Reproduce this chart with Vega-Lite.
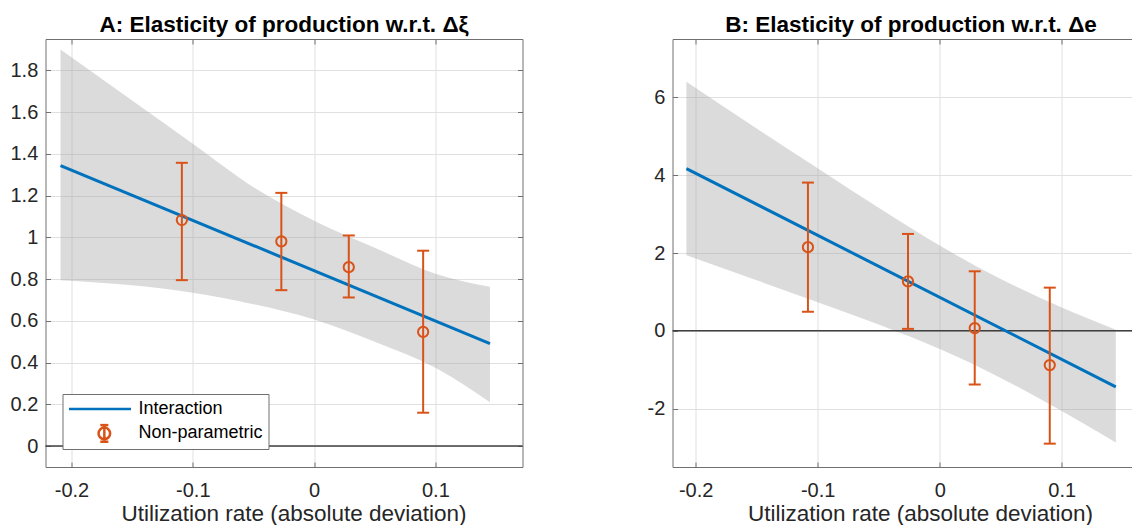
{
  "$schema": "https://vega.github.io/schema/vega-lite/v6.json",
  "padding": {"left": 9.5, "top": 14, "right": 0, "bottom": 0},
  "bounds": "flush",
  "spacing": 150,
  "config": {
    "view": {"stroke": null},
    "font": "Liberation Sans",
    "axis": {
      "labelFont": "Liberation Sans", "labelFontSize": 20, "labelColor": "#262626", "labelFlush": false,
      "titleFont": "Liberation Sans", "titleFontSize": 22.5, "titleFontWeight": "normal", "titleColor": "#262626",
      "gridColor": "#e0e0e0", "gridWidth": 1,
      "domainColor": "#707070", "domainWidth": 1,
      "tickColor": "#707070", "tickSize": -5, "tickWidth": 1
    },
    "title": {"font": "Liberation Sans", "fontSize": 22.5, "fontWeight": "bold", "color": "#000000", "offset": 2}
  },
  "datasets": {
    "bandA": [
      {"x": -0.209, "lo": 0.795, "hi": 1.9},
      {"x": -0.15, "lo": 0.77, "hi": 1.655},
      {"x": -0.1, "lo": 0.735, "hi": 1.448},
      {"x": -0.05, "lo": 0.68, "hi": 1.24},
      {"x": 0.0, "lo": 0.607, "hi": 1.08},
      {"x": 0.05, "lo": 0.5, "hi": 0.95},
      {"x": 0.1, "lo": 0.375, "hi": 0.826},
      {"x": 0.145, "lo": 0.21, "hi": 0.763}
    ],
    "lineA": [
      {"x": -0.209, "y": 1.344},
      {"x": 0.145, "y": 0.491}
    ],
    "ptsA": [
      {"x": -0.109, "y": 1.083, "lo": 0.795, "hi": 1.357},
      {"x": -0.027, "y": 0.981, "lo": 0.747, "hi": 1.213},
      {"x": 0.0286, "y": 0.857, "lo": 0.712, "hi": 1.009},
      {"x": 0.0899, "y": 0.547, "lo": 0.16, "hi": 0.936}
    ],
    "bandB": [
      {"x": -0.2076, "lo": 1.94, "hi": 6.4},
      {"x": -0.15, "lo": 1.3, "hi": 5.2},
      {"x": -0.1, "lo": 0.735, "hi": 4.175},
      {"x": -0.05, "lo": 0.16, "hi": 3.16},
      {"x": 0.0, "lo": -0.47, "hi": 2.19},
      {"x": 0.05, "lo": -1.21, "hi": 1.33},
      {"x": 0.1, "lo": -2.06, "hi": 0.6},
      {"x": 0.1443, "lo": -2.87, "hi": 0.03}
    ],
    "lineB": [
      {"x": -0.2076, "y": 4.17},
      {"x": 0.1443, "y": -1.44}
    ],
    "ptsB": [
      {"x": -0.108, "y": 2.15, "lo": 0.49, "hi": 3.81},
      {"x": -0.026, "y": 1.27, "lo": 0.05, "hi": 2.49},
      {"x": 0.0287, "y": 0.07, "lo": -1.38, "hi": 1.53},
      {"x": 0.0902, "y": -0.88, "lo": -2.9, "hi": 1.11}
    ],
    "legendRows": [
      {"series": "Interaction"},
      {"series": "Non-parametric"}
    ]
  },
  "hconcat": [
    {
      "width": 477,
      "height": 428,
      "title": {"text": "A: Elasticity of production w.r.t. Δξ"},
      "resolve": {"axis": {"x": "independent", "y": "independent"}},
      "layer": [
        {
          "data": {"name": "bandA"},
          "mark": {"type": "area", "fill": "#a6a6a6", "opacity": 0.4, "interpolate": "monotone"},
          "encoding": {
            "x": {"field": "x", "type": "quantitative",
              "scale": {"domain": [-0.2214, 0.1718], "nice": false, "zero": false},
              "axis": {"orient": "bottom", "values": [-0.2, -0.1, 0, 0.1], "format": "~g", "labelExpr": "replace(datum.label, '−', '-')", "grid": true, "title": "Utilization rate (absolute deviation)", "labelPadding": 18, "titlePadding": 2.5, "titleX": 248}},
            "y": {"field": "lo", "type": "quantitative",
              "scale": {"domain": [-0.1, 1.95], "nice": false, "zero": false},
              "axis": {"orient": "left", "values": [0, 0.2, 0.4, 0.6, 0.8, 1, 1.2, 1.4, 1.6, 1.8], "format": "~g", "grid": true, "title": null, "labelPadding": 12.7}},
            "y2": {"field": "hi"}
          }
        },
        {
          "data": {"values": [{}]},
          "mark": {"type": "rule", "color": "#404040", "strokeWidth": 1.5},
          "encoding": {"y": {"datum": 0, "type": "quantitative", "axis": null}}
        },
        {
          "data": {"name": "lineA"},
          "mark": {"type": "line", "color": "#0072BD", "strokeWidth": 3},
          "encoding": {
            "x": {"field": "x", "type": "quantitative",
              "axis": {"orient": "top", "values": [-0.2, -0.1, 0, 0.1], "labels": false, "grid": false, "title": null}},
            "y": {"field": "y", "type": "quantitative",
              "axis": {"orient": "right", "values": [0, 0.2, 0.4, 0.6, 0.8, 1, 1.2, 1.4, 1.6, 1.8], "labels": false, "grid": false, "title": null}}
          }
        },
        {
          "data": {"name": "ptsA"},
          "mark": {"type": "rule", "color": "#D95319", "strokeWidth": 2},
          "encoding": {
            "x": {"field": "x", "type": "quantitative", "axis": null},
            "y": {"field": "lo", "type": "quantitative", "axis": null},
            "y2": {"field": "hi"}
          }
        },
        {
          "data": {"name": "ptsA"},
          "mark": {"type": "tick", "orient": "horizontal", "color": "#D95319", "size": 12, "thickness": 2, "opacity": 1},
          "encoding": {
            "x": {"field": "x", "type": "quantitative", "axis": null},
            "y": {"field": "lo", "type": "quantitative", "axis": null}
          }
        },
        {
          "data": {"name": "ptsA"},
          "mark": {"type": "tick", "orient": "horizontal", "color": "#D95319", "size": 12, "thickness": 2, "opacity": 1},
          "encoding": {
            "x": {"field": "x", "type": "quantitative", "axis": null},
            "y": {"field": "hi", "type": "quantitative", "axis": null}
          }
        },
        {
          "data": {"name": "ptsA"},
          "mark": {"type": "point", "shape": "circle", "filled": false, "color": "#D95319", "strokeWidth": 2, "size": 105, "opacity": 1},
          "encoding": {
            "x": {"field": "x", "type": "quantitative", "axis": null},
            "y": {"field": "y", "type": "quantitative", "axis": null}
          }
        },
        {
          "data": {"name": "legendRows"},
          "mark": {"type": "point", "filled": false, "strokeWidth": 2.5, "size": 3844, "opacity": 1},
          "encoding": {
            "x": {"field": "px", "type": "quantitative", "axis": null},
            "y": {"field": "py", "type": "quantitative", "axis": null},
            "color": {"field": "series", "type": "nominal",
              "scale": {"domain": ["Interaction", "Non-parametric"], "range": ["#0072BD", "#D95319"]},
              "legend": {"title": null, "orient": "none", "legendX": 17, "legendY": 355, "fillColor": "#ffffff", "strokeColor": "#707070", "padding": 5, "symbolSize": 3844, "symbolStrokeWidth": 2.5, "labelFontSize": 18, "labelFont": "Liberation Sans", "labelColor": "#000000", "labelOffset": 6, "clipHeight": 20, "rowPadding": 4.4}},
            "shape": {"field": "series", "type": "nominal",
              "scale": {"domain": ["Interaction", "Non-parametric"], "range": ["M-1,0H1", "M0.14,-0.27V0.27M0.01,-0.27H0.27M0.01,0.27H0.27M0.327,0A0.187,0.187,0,1,1,-0.047,0A0.187,0.187,0,1,1,0.327,0"]},
              "legend": {"title": null, "orient": "none", "legendX": 17, "legendY": 355, "fillColor": "#ffffff", "strokeColor": "#707070", "padding": 5, "symbolSize": 3844, "symbolStrokeWidth": 2.5, "labelFontSize": 18, "labelFont": "Liberation Sans", "labelColor": "#000000", "labelOffset": 6, "clipHeight": 20, "rowPadding": 4.4}}
          }
        }
      ]
    },
    {
      "width": 460,
      "height": 428,
      "title": {"text": "B: Elasticity of production w.r.t. Δe", "dx": 8.5},
      "resolve": {"axis": {"x": "independent", "y": "independent"}},
      "layer": [
        {
          "data": {"name": "bandB"},
          "mark": {"type": "area", "fill": "#a6a6a6", "opacity": 0.4, "interpolate": "monotone"},
          "encoding": {
            "x": {"field": "x", "type": "quantitative",
              "scale": {"domain": [-0.219, 0.158], "nice": false, "zero": false},
              "axis": {"orient": "bottom", "values": [-0.2, -0.1, 0, 0.1], "format": "~g", "labelExpr": "replace(datum.label, '−', '-')", "grid": true, "title": "Utilization rate (absolute deviation)", "labelPadding": 18, "titlePadding": 2.5, "titleX": 247.5}},
            "y": {"field": "lo", "type": "quantitative",
              "scale": {"domain": [-3.5, 7.5], "nice": false, "zero": false},
              "axis": {"orient": "left", "values": [-2, 0, 2, 4, 6], "format": "~g", "labelExpr": "replace(datum.label, '−', '-')", "grid": true, "title": null, "labelPadding": 12.7}},
            "y2": {"field": "hi"}
          }
        },
        {
          "data": {"values": [{}]},
          "mark": {"type": "rule", "color": "#404040", "strokeWidth": 1.5},
          "encoding": {"y": {"datum": 0, "type": "quantitative", "axis": null}}
        },
        {
          "data": {"name": "lineB"},
          "mark": {"type": "line", "color": "#0072BD", "strokeWidth": 3},
          "encoding": {
            "x": {"field": "x", "type": "quantitative",
              "axis": {"orient": "top", "values": [-0.2, -0.1, 0, 0.1], "labels": false, "grid": false, "title": null}},
            "y": {"field": "y", "type": "quantitative", "axis": null}
          }
        },
        {
          "data": {"name": "ptsB"},
          "mark": {"type": "rule", "color": "#D95319", "strokeWidth": 2},
          "encoding": {
            "x": {"field": "x", "type": "quantitative", "axis": null},
            "y": {"field": "lo", "type": "quantitative", "axis": null},
            "y2": {"field": "hi"}
          }
        },
        {
          "data": {"name": "ptsB"},
          "mark": {"type": "tick", "orient": "horizontal", "color": "#D95319", "size": 12, "thickness": 2, "opacity": 1},
          "encoding": {
            "x": {"field": "x", "type": "quantitative", "axis": null},
            "y": {"field": "lo", "type": "quantitative", "axis": null}
          }
        },
        {
          "data": {"name": "ptsB"},
          "mark": {"type": "tick", "orient": "horizontal", "color": "#D95319", "size": 12, "thickness": 2, "opacity": 1},
          "encoding": {
            "x": {"field": "x", "type": "quantitative", "axis": null},
            "y": {"field": "hi", "type": "quantitative", "axis": null}
          }
        },
        {
          "data": {"name": "ptsB"},
          "mark": {"type": "point", "shape": "circle", "filled": false, "color": "#D95319", "strokeWidth": 2, "size": 105, "opacity": 1},
          "encoding": {
            "x": {"field": "x", "type": "quantitative", "axis": null},
            "y": {"field": "y", "type": "quantitative", "axis": null}
          }
        }
      ]
    }
  ]
}
